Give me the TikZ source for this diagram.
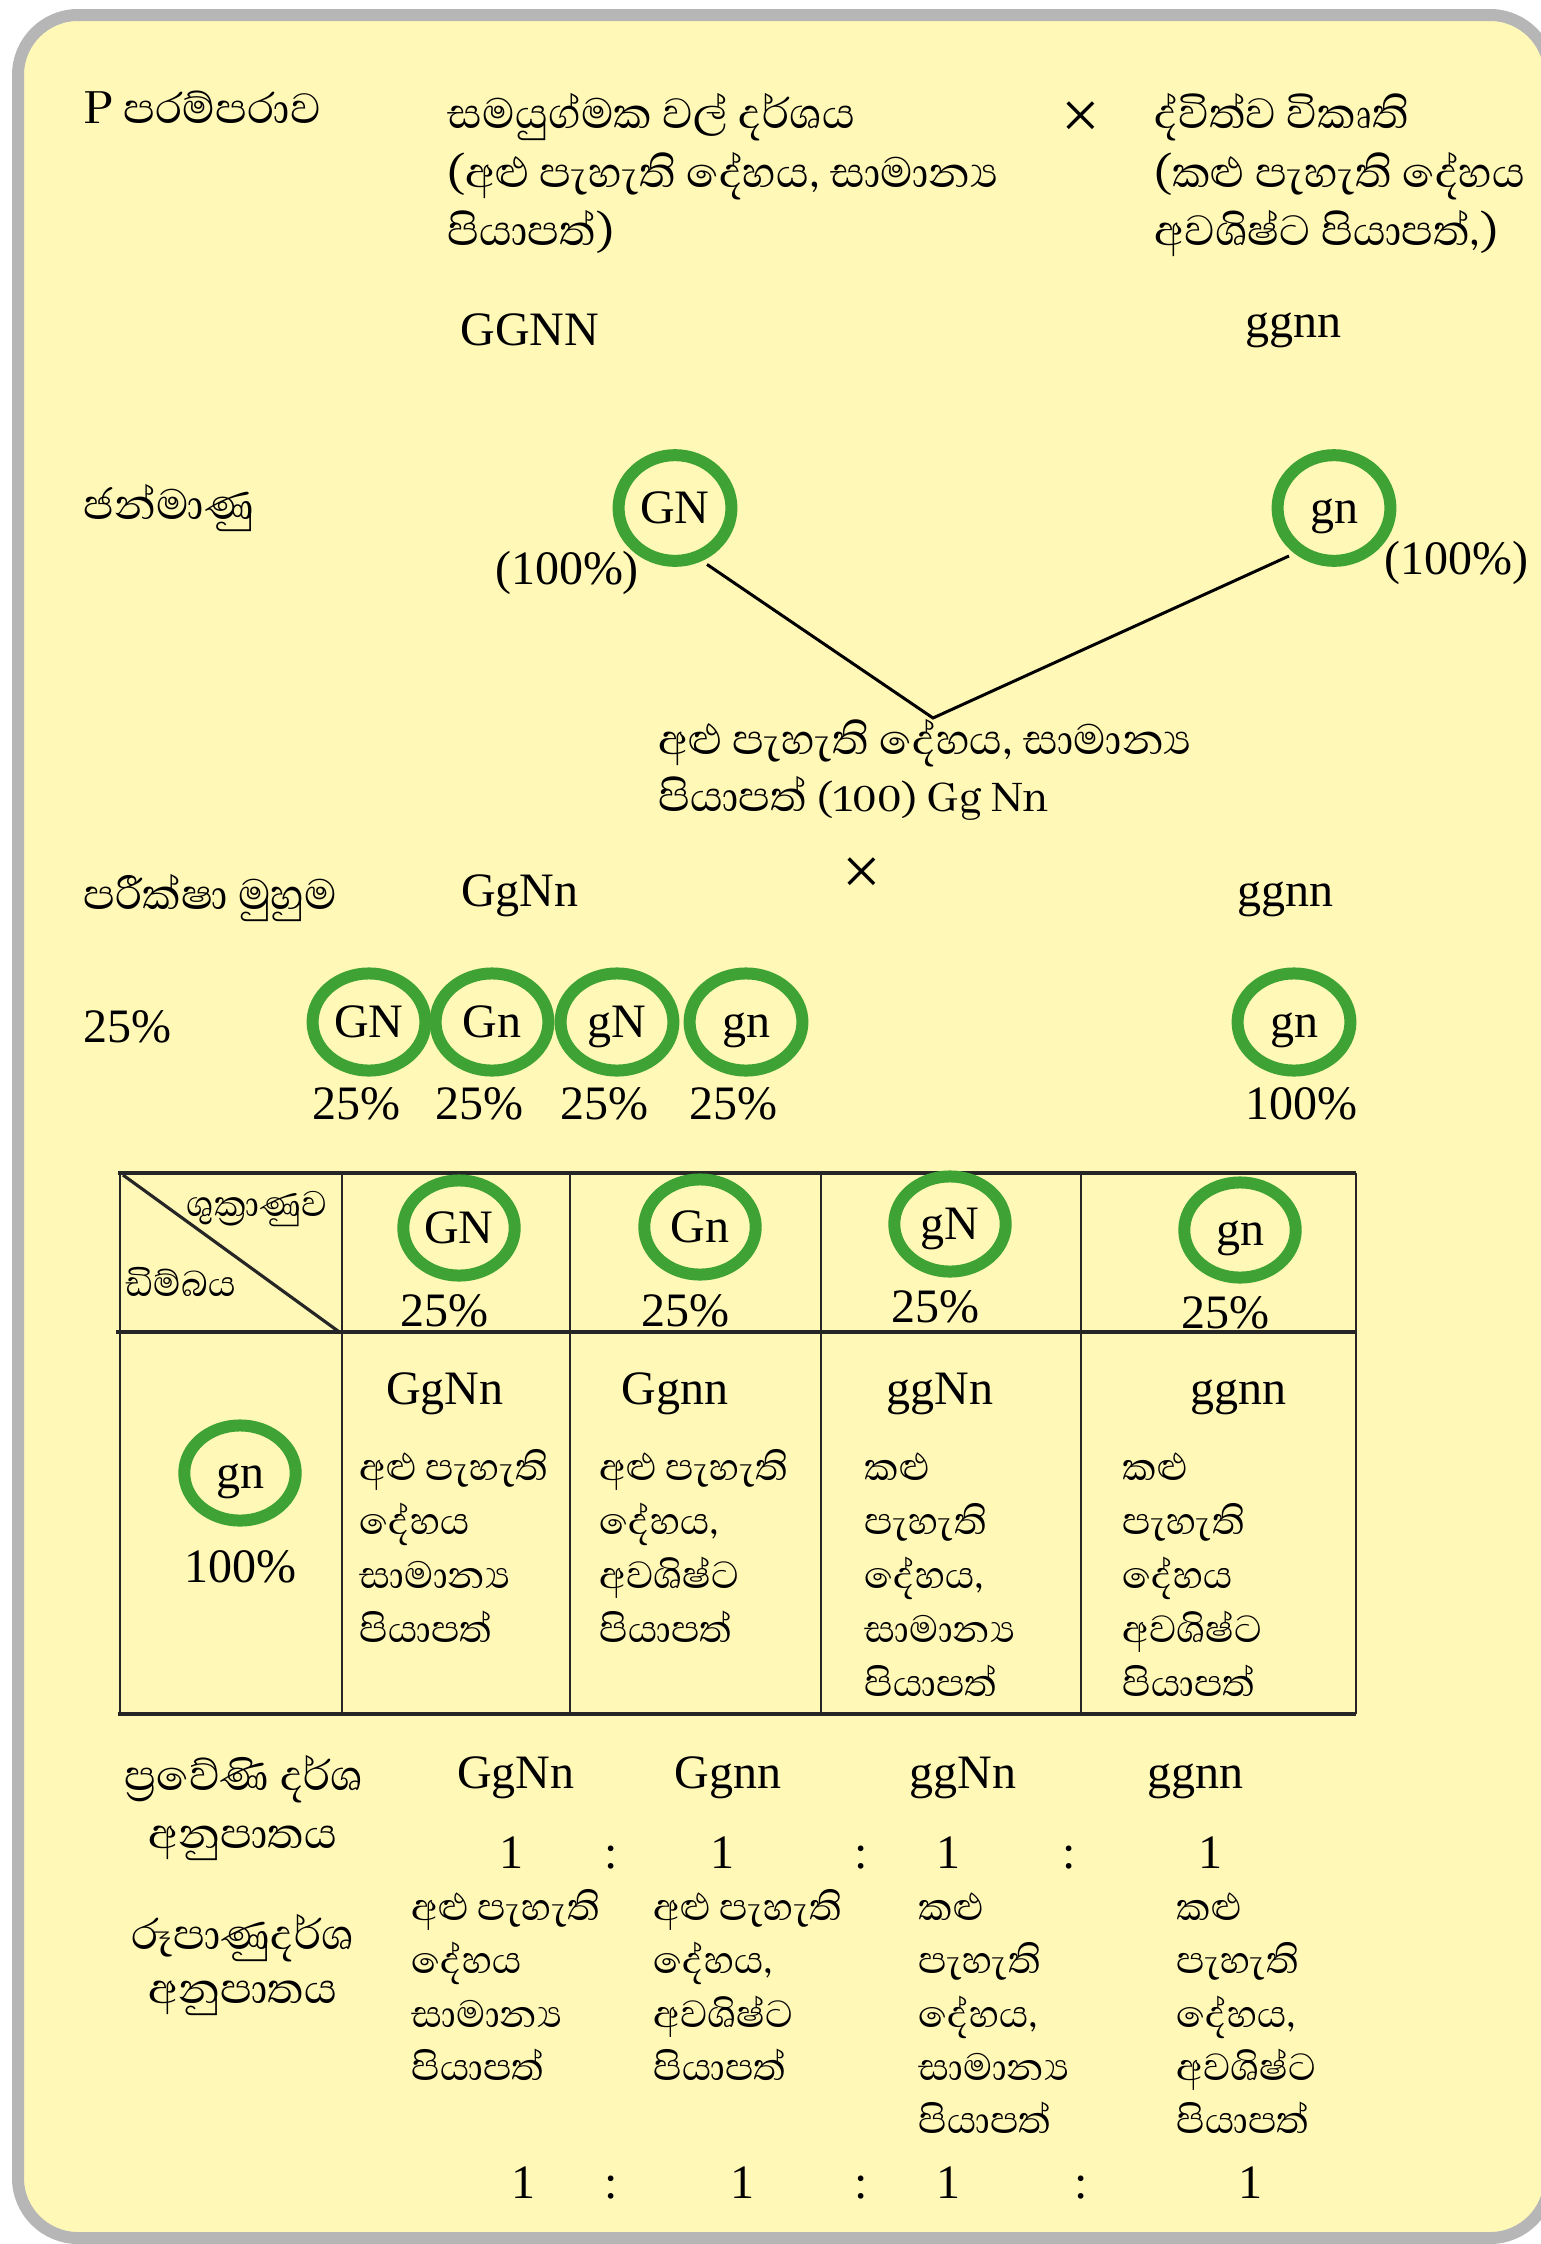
\documentclass[tikz,border=0pt]{standalone}
\usepackage{fontspec}
\setmainfont{Liberation Serif}
\newfontfamily\sinhfam[Script=Sinhala]{Abhaya Libre}
\usetikzlibrary{shapes.geometric}
\definecolor{bgyel}{RGB}{255,248,183}
\definecolor{rgreen}{RGB}{62,163,52}
\definecolor{bgray}{RGB}{182,182,182}
\newcommand\latf{\fontsize{16.8}{20}\selectfont}
\newcommand\crossf{\fontsize{24}{26}\selectfont}
\newcommand\sinf{\sinhfam\fontsize{19}{22}\selectfont}
\newcommand\sintab{\sinhfam\fontsize{17}{20}\selectfont}
\newcommand\sinsmall{\sinhfam\fontsize{16}{18}\selectfont}
\begin{document}
\begin{tikzpicture}[x=0.35pt,y=-0.35pt,
  lat/.style={font=\latf, inner sep=0pt, anchor=base},
  sin/.style={font=\sinf, inner sep=0pt, anchor=mid west},
  sint/.style={font=\sintab, inner sep=0pt, anchor=mid west},
  ringbase/.style={ellipse, draw=rgreen, line width=4.2pt, inner sep=0pt, font=\latf, text height=10.5pt, text depth=0pt},
  gring/.style={ringbase, minimum width=39.5pt, minimum height=37pt},
  sring/.style={ringbase, minimum width=39.5pt, minimum height=34pt},
  tring/.style={ringbase, minimum width=39pt, minimum height=33.3pt},
  cline/.style={line width=1.05pt, black},
  tline/.style={line width=1.4pt, black!85},
  vline/.style={line width=1pt, black!85}]
\useasboundingbox (0,0) rectangle (1540,2244);
\path[fill=white] (0,0) rectangle (1540,2244);
\draw[bgray, line width=4.2pt, fill=bgyel, rounded corners=21pt] (18,15) rectangle (1550,2238);

% P generation
\node[sin] (pgen) at (83,117) {P පරම්පරාව};
\node[sin] (pa1) at (447,122) {සමයුග්මක වල් දර්ශය};
\node[sin] (pa2) at (447,181) {(අළු පැහැති දේහය, සාමාන්^^^^200dය};
\node[sin] (pa3) at (447,239) {පියාපත්)};
\node[font=\crossf, inner sep=0pt, anchor=center] (x1) at (1081,120) {×};
\node[sin] (pb1) at (1154,122) {ද්විත්ව විකෘති};
\node[sin] (pb2) at (1154,181) {(කළු පැහැති දේහය};
\node[sin] (pb3) at (1154,239) {අවශිෂ්ට පියාපත්,)};
\node[lat] (pG) at (530,345) {GGNN};
\node[lat] (pg) at (1293,337) {ggnn};

% gametes
\node[sin] (jan) at (83,513) {ජන්මාණු};
\node[gring] (gGN) at (675,508) {GN};
\node[gring] (ggn) at (1334,508) {gn};
\node[lat, anchor=center] (p1) at (567,573) {(100\%)};
\node[lat, anchor=center] (p2) at (1456,563) {(100\%)};
\coordinate (v) at (933,718);
\draw[cline, shorten <=2.1pt, shorten >=2.1pt] (gGN.-63) -- (v) -- (ggn.-131);
\node[sin] (f1a) at (658,748) {අළු පැහැති දේහය, සාමාන්^^^^200dය};
\node[sin] (f1b) at (658,805) {පියාපත් {\latf (100) Gg Nn}};

% test cross
\node[sin] (test) at (83,903) {පරීක්ෂා මුහුම};
\node[lat] (tG) at (520,906) {GgNn};
\node[font=\crossf, inner sep=0pt, anchor=center] (x2) at (862,876) {×};
\node[lat] (tg) at (1285,906) {ggnn};

\node[lat, anchor=base west] (q25) at (83,1042) {25\%};
\node[sring] (s1) at (369,1022) {GN};
\node[sring] (s2) at (492,1022) {Gn};
\node[sring] (s3) at (617,1022) {gN};
\node[sring] (s4) at (746,1022) {gn};
\node[sring] (s5) at (1294,1022) {gn};
\node[lat] (s1p) at (356,1119) {25\%};
\node[lat] (s2p) at (479,1119) {25\%};
\node[lat] (s3p) at (604,1119) {25\%};
\node[lat] (s4p) at (733,1119) {25\%};
\node[lat] (s5p) at (1301,1119) {100\%};

% table
\draw[tline] (118,1173) -- (1356,1173);
\draw[tline] (116,1332) -- (1356,1332);
\draw[tline] (118,1714) -- (1356,1714);
\foreach \xx/\nm in {120/a,342/b,570/c,821/d,1081/e,1356/f}
  \draw[vline] (\xx,1173) -- (\xx,1714);
\draw[vline, line width=1.1pt] (123,1175) -- (338,1331);
\node[font=\sinsmall, inner sep=0pt, anchor=mid] (sperm) at (257,1210) {ශුක්^^^^200dරාණුව};
\node[font=\sinsmall, inner sep=0pt, anchor=mid west] (egg) at (125,1290) {ඩිම්බය};
\node[tring] (h1) at (459,1228) {GN};
\node[tring] (h2) at (700,1227) {Gn};
\node[tring] (h3) at (950,1224) {gN};
\node[tring] (h4) at (1240,1230) {gn};
\node[lat] (h1p) at (444,1326) {25\%};
\node[lat] (h2p) at (685,1326) {25\%};
\node[lat] (h3p) at (935,1322) {25\%};
\node[lat] (h4p) at (1225,1328) {25\%};
\node[tring] (e1) at (240,1473) {gn};
\node[lat] (e1p) at (240,1582) {100\%};
\node[lat] (c1) at (445,1404) {GgNn};
\node[lat] (c2) at (675,1404) {Ggnn};
\node[lat] (c3) at (940,1404) {ggNn};
\node[lat] (c4) at (1238,1404) {ggnn};
\foreach \t [count=\i] in {අළු පැහැති, දේහය, සාමාන්^^^^200dය, පියාපත්}
  \node[sint] (ta\i) at (359,{1474+54*(\i-1)}) {\t};
\foreach \t [count=\i] in {අළු පැහැති, {දේහය,}, අවශිෂ්ට, පියාපත්}
  \node[sint] (tb\i) at (599,{1474+54*(\i-1)}) {\t};
\foreach \t [count=\i] in {කළු, පැහැති, {දේහය,}, සාමාන්^^^^200dය, පියාපත්}
  \node[sint] (tc\i) at (864,{1474+54*(\i-1)}) {\t};
\foreach \t [count=\i] in {කළු, පැහැති, දේහය, අවශිෂ්ට, පියාපත්}
  \node[sint] (td\i) at (1122,{1474+54*(\i-1)}) {\t};

% ratios
\node[sin, anchor=mid] (r1a) at (244,1784) {ප්^^^^200dරවේණි දර්ශ};
\node[sin, anchor=mid] (r1b) at (243,1842) {අනුපාතය};
\node[sin, anchor=mid] (r2a) at (243,1943) {රූපාණුදර්ශ};
\node[sin, anchor=mid] (r2b) at (243,1997) {අනුපාතය};
\node[lat] (g1) at (516,1788) {GgNn};
\node[lat] (g2) at (728,1788) {Ggnn};
\node[lat] (g3) at (963,1788) {ggNn};
\node[lat] (g4) at (1195,1788) {ggnn};
\foreach \xx [count=\i] in {511,722,948,1210} \node[lat] (na\i) at (\xx,1868) {1};
\foreach \xx [count=\i] in {611,861,1069} \node[lat] (ka\i) at (\xx,1868) {:};
\foreach \t [count=\i] in {අළු පැහැති, දේහය, සාමාන්^^^^200dය, පියාපත්}
  \node[sint] (ba\i) at (411,{1914+53.3*(\i-1)}) {\t};
\foreach \t [count=\i] in {අළු පැහැති, {දේහය,}, අවශිෂ්ට, පියාපත්}
  \node[sint] (bb\i) at (653,{1914+53.3*(\i-1)}) {\t};
\foreach \t [count=\i] in {කළු, පැහැති, {දේහය,}, සාමාන්^^^^200dය, පියාපත්}
  \node[sint] (bc\i) at (918,{1914+53.3*(\i-1)}) {\t};
\foreach \t [count=\i] in {කළු, පැහැති, {දේහය,}, අවශිෂ්ට, පියාපත්}
  \node[sint] (bd\i) at (1176,{1914+53.3*(\i-1)}) {\t};
\foreach \xx [count=\i] in {523,742,948,1250} \node[lat] (nb\i) at (\xx,2198) {1};
\foreach \xx [count=\i] in {611,861,1081} \node[lat] (kb\i) at (\xx,2198) {:};
\end{tikzpicture}
\end{document}
